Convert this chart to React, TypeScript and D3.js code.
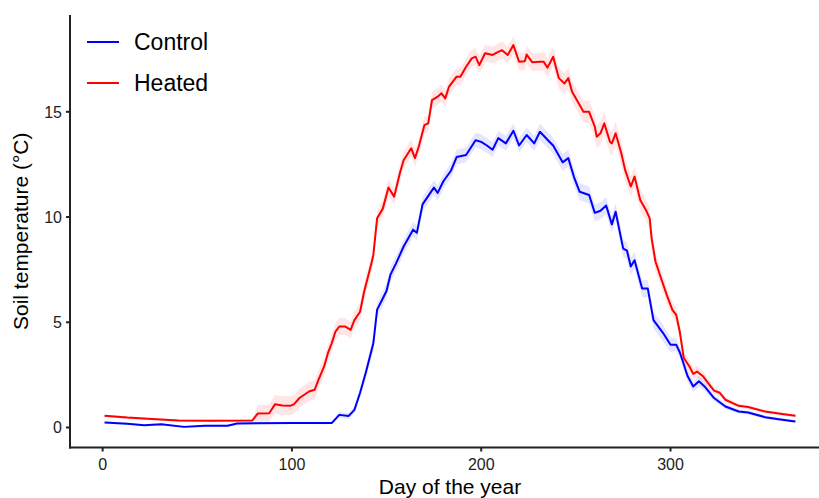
import * as d3 from "d3";

type Pt = [number, number, number]; // day, mean temp, half-width of band

// day, mean soil temperature (°C), ribbon half-width
const controlSeries: Pt[] = [
  [1, 0.24, 0.05], [13, 0.18, 0.05], [22, 0.11, 0.05], [31, 0.15, 0.05], [43, 0.03, 0.05],
  [54, 0.08, 0.05], [66, 0.08, 0.05], [71, 0.19, 0.05], [101, 0.22, 0.05], [121, 0.21, 0.06],
  [125, 0.6, 0.14], [130, 0.55, 0.14], [133, 0.84, 0.16], [136, 1.65, 0.2], [139, 2.6, 0.28],
  [143, 4.0, 0.35], [145, 5.6, 0.35], [147, 5.95, 0.35], [150, 6.5, 0.35], [152, 7.25, 0.35],
  [155, 7.8, 0.35], [159, 8.6, 0.35], [164, 9.4, 0.35], [166, 9.25, 0.35], [169, 10.6, 0.35],
  [175, 11.4, 0.35], [177, 11.15, 0.35], [180, 11.7, 0.35], [184, 12.2, 0.35], [187, 12.85, 0.35],
  [192, 12.95, 0.35], [197, 13.65, 0.35], [200, 13.57, 0.35], [203, 13.4, 0.35], [206, 13.2, 0.35],
  [209, 13.75, 0.35], [213, 13.5, 0.35], [217, 14.1, 0.35], [220, 13.4, 0.35], [224, 13.9, 0.35],
  [228, 13.5, 0.35], [231, 14.05, 0.38], [236, 13.58, 0.38], [238, 13.4, 0.38], [243, 12.6, 0.4],
  [246, 12.8, 0.4], [249, 11.9, 0.4], [252, 11.2, 0.4], [257, 11.05, 0.4], [260, 10.2, 0.4],
  [263, 10.3, 0.4], [266, 10.55, 0.4], [269, 9.65, 0.4], [271, 10.25, 0.4], [275, 8.5, 0.4],
  [277, 8.4, 0.4], [279, 7.65, 0.4], [281, 7.95, 0.4], [285, 6.6, 0.4], [288, 6.6, 0.4],
  [291, 5.1, 0.4], [296, 4.5, 0.4], [300, 3.93, 0.35], [303, 3.93, 0.3], [305, 3.55, 0.28],
  [309, 2.45, 0.28], [312, 1.95, 0.25], [315, 2.2, 0.25], [318, 1.95, 0.2], [323, 1.4, 0.16],
  [329, 1.0, 0.13], [336, 0.76, 0.1], [341, 0.71, 0.09], [350, 0.49, 0.08], [359, 0.37, 0.07],
  [366, 0.28, 0.07],
];

const heatedSeries: Pt[] = [
  [1, 0.56, 0.06], [13, 0.47, 0.06], [26, 0.4, 0.06], [40, 0.33, 0.06], [57, 0.32, 0.06],
  [79, 0.33, 0.06], [82, 0.67, 0.4], [88, 0.68, 0.4], [91, 1.1, 0.45], [95, 1.05, 0.45],
  [99, 1.03, 0.45], [101, 1.1, 0.45], [104, 1.4, 0.45], [109, 1.71, 0.45], [112, 1.79, 0.45],
  [114, 2.26, 0.45], [117, 2.9, 0.4], [119, 3.53, 0.4], [121, 4.0, 0.4], [123, 4.56, 0.4],
  [125, 4.8, 0.4], [128, 4.8, 0.4], [131, 4.64, 0.4], [133, 5.1, 0.4], [136, 5.5, 0.4],
  [138, 6.4, 0.4], [142, 7.8, 0.4], [143, 8.2, 0.4], [145, 9.94, 0.4], [148, 10.4, 0.4],
  [151, 11.4, 0.4], [154, 10.97, 0.4], [157, 12.08, 0.4], [159, 12.7, 0.4], [163, 13.27, 0.4],
  [165, 12.8, 0.4], [167, 13.34, 0.4], [170, 14.37, 0.4], [172, 14.45, 0.4], [174, 15.56, 0.4],
  [177, 15.72, 0.4], [179, 15.88, 0.4], [181, 15.64, 0.4], [183, 16.2, 0.4], [187, 16.67, 0.4],
  [189, 16.67, 0.4], [192, 17.14, 0.4], [195, 17.54, 0.4], [197, 17.62, 0.4], [199, 17.22, 0.4],
  [202, 17.78, 0.4], [206, 17.7, 0.4], [209, 17.85, 0.4], [211, 17.93, 0.4], [214, 17.7, 0.4],
  [217, 18.17, 0.42], [220, 17.38, 0.42], [223, 17.4, 0.42], [224, 17.72, 0.42], [227, 17.35, 0.42],
  [231, 17.38, 0.42], [233, 17.38, 0.45], [235, 17.1, 0.45], [238, 17.62, 0.45], [241, 16.6, 0.5],
  [244, 16.35, 0.5], [246, 16.6, 0.5], [248, 15.95, 0.5], [252, 15.32, 0.5], [254, 15.0, 0.5],
  [257, 15.0, 0.55], [260, 14.29, 0.55], [261, 13.82, 0.55], [263, 13.98, 0.55], [265, 14.45, 0.55],
  [268, 13.58, 0.55], [269, 13.5, 0.55], [271, 13.98, 0.55], [274, 13.03, 0.55], [276, 12.24, 0.55],
  [279, 11.45, 0.5], [281, 11.92, 0.5], [284, 10.81, 0.5], [287, 10.34, 0.5], [289, 9.94, 0.5],
  [290, 9.0, 0.5], [292, 7.9, 0.45], [295, 7.09, 0.4], [298, 6.3, 0.4], [301, 5.59, 0.35],
  [303, 5.35, 0.35], [305, 4.5, 0.35], [307, 3.3, 0.3], [310, 2.9, 0.28], [312, 2.55, 0.28],
  [314, 2.66, 0.28], [317, 2.45, 0.25], [320, 2.1, 0.2], [323, 1.75, 0.16], [326, 1.65, 0.16],
  [329, 1.32, 0.13], [336, 1.03, 0.1], [341, 0.97, 0.09], [350, 0.76, 0.08], [359, 0.64, 0.07],
  [366, 0.56, 0.07],
];

const seriesNames = ["Control", "Heated"];
const seriesColors = ["#0000ff", "#ff0000"];
const xTicks = [0, 100, 200, 300];
const yTicks = [0, 5, 10, 15];

const FONT = "'Liberation Sans', Arial, Helvetica, sans-serif";

export default function App() {
  const W = 819;
  const H = 498;

  const x = d3.scaleLinear().domain([-17.25, 384.25]).range([70, 830]);
  const y = d3.scaleLinear().domain([-0.95, 19.6]).range([447.5, 15]);

  const line = d3.line<Pt>().x((d) => x(d[0])).y((d) => y(d[1]));
  const band = d3
    .area<Pt>()
    .x((d) => x(d[0]))
    .y0((d) => y(d[1] - d[2]))
    .y1((d) => y(d[1] + d[2]));

  const all = [controlSeries, heatedSeries];
  const [x0, x1] = x.range();
  const [yb, yt] = y.range();

  return (
    <div style={{ position: "fixed", left: 0, top: 0 }}>
      <svg width={W} height={H} style={{ display: "block", background: "#fff" }} fontFamily={FONT}>
        {/* ribbons */}
        {all.map((s, i) => (
          <path key={"b" + i} d={band(s) || ""} fill={seriesColors[i]} fillOpacity={0.1} stroke="none" />
        ))}
        {/* lines */}
        {all.map((s, i) => (
          <path key={"l" + i} d={line(s) || ""} fill="none" stroke={seriesColors[i]} strokeWidth={2} strokeLinejoin="round" />
        ))}

        {/* y axis */}
        <line x1={x0} x2={x0} y1={yt} y2={yb + 1} stroke="#222" strokeWidth={2} />
        {yTicks.map((t) => (
          <g key={"yt" + t}>
            <line x1={x0 - 4} x2={x0} y1={y(t)} y2={y(t)} stroke="#222" strokeWidth={2} />
            <text x={x0 - 8} y={y(t)} dy="0.36em" textAnchor="end" fontSize={16} fill="#222">
              {t}
            </text>
          </g>
        ))}

        {/* x axis */}
        <line x1={x0 - 1} x2={x1} y1={yb} y2={yb} stroke="#222" strokeWidth={2} />
        {xTicks.map((t) => (
          <g key={"xt" + t}>
            <line x1={x(t)} x2={x(t)} y1={yb} y2={yb + 4} stroke="#222" strokeWidth={2} />
            <text x={x(t)} y={470} textAnchor="middle" fontSize={16} fill="#222">
              {t}
            </text>
          </g>
        ))}

        {/* axis titles */}
        <text x={(x0 + x1) / 2} y={494} textAnchor="middle" fontSize={21} fill="#000">
          Day of the year
        </text>
        <text
          transform={`translate(28,${(yt + yb) / 2}) rotate(-90)`}
          textAnchor="middle"
          fontSize={21}
          fill="#000"
        >
          Soil temperature (°C)
        </text>

        {/* legend */}
        {seriesNames.map((n, i) => (
          <g key={n} transform={`translate(87,${42 + i * 41})`}>
            <line x1={0} x2={32} y1={0} y2={0} stroke={seriesColors[i]} strokeWidth={2} />
            <text x={47} y={0} dy="0.36em" fontSize={23} fill="#000">
              {n}
            </text>
          </g>
        ))}
      </svg>
    </div>
  );
}
